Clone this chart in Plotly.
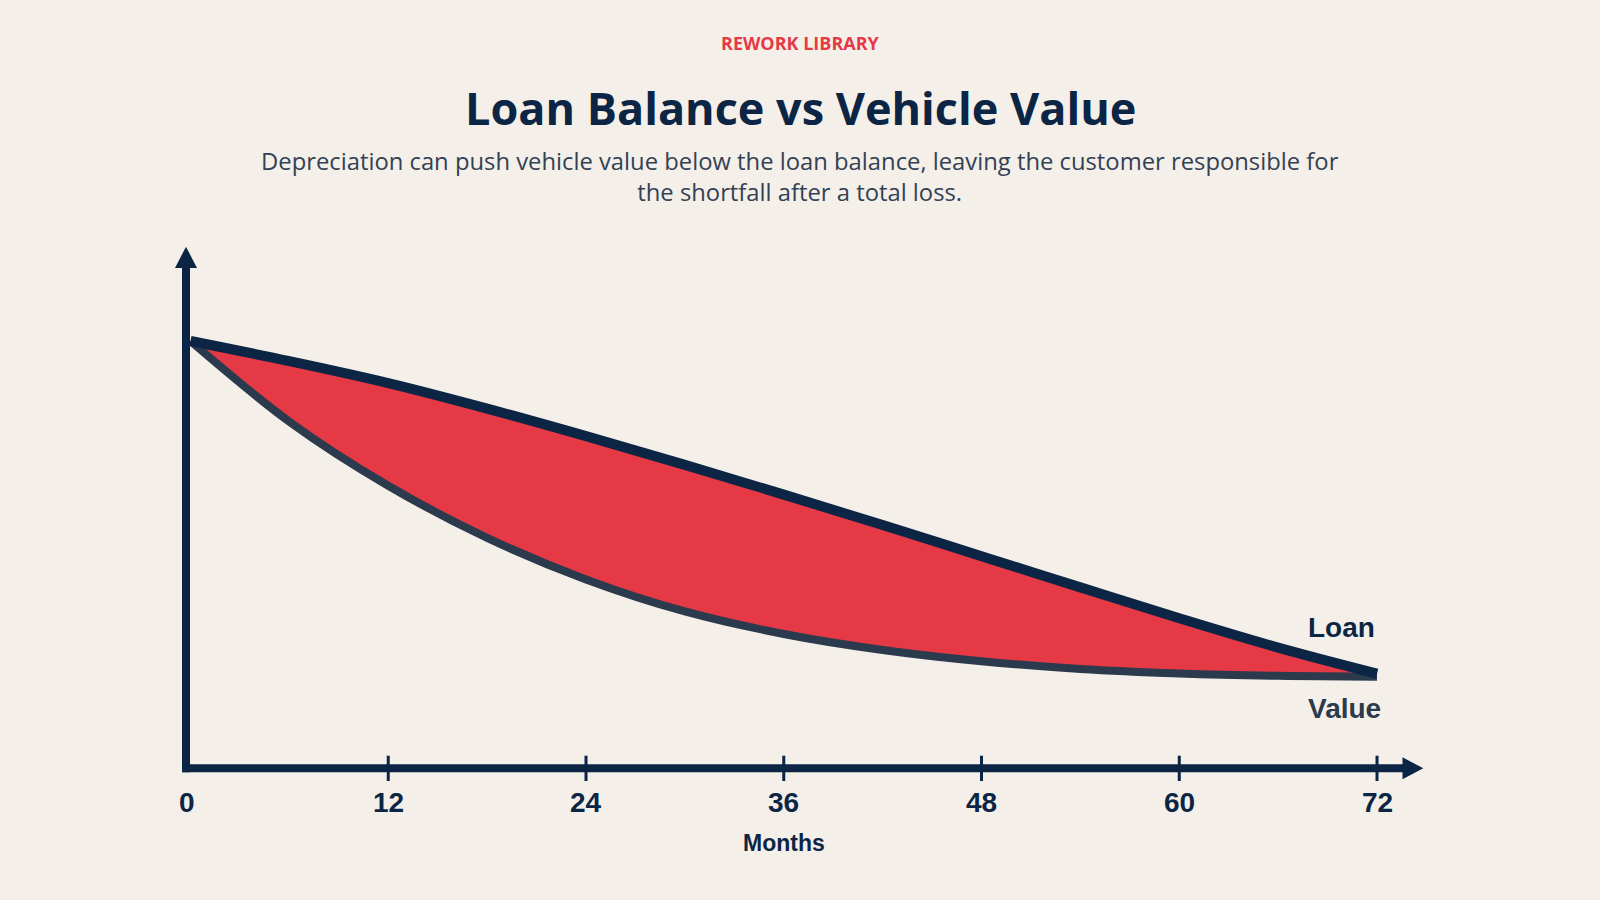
import plotly.graph_objects as go

# ---- data ----
months = [0, 6, 12, 18, 24, 30, 36, 42, 48, 54, 60, 66, 72]
loan_balance = [36000, 34300, 32450, 30300, 27980, 25560, 23050, 20480, 17860, 15230, 12620, 10150, 7950]
vehicle_value = [36000, 29200, 23800, 19400, 15900, 13200, 11300, 9950, 9000, 8350, 7970, 7770, 7700]
tick_months = [0, 12, 24, 36, 48, 60, 72]
tick_labels = ["0", "12", "24", "36", "48", "60", "72"]

BG = "#f4f0e9"
NAVY = "#0d2545"
SLATE = "#2b3a4d"
RED = "#e63946"

# plot area in pixels
L, R, T, B = 186, 1423, 247, 768
W, H = 1600, 900


def px(x):
    return (x - L) / (R - L)


def py(y):
    return (B - y) / (B - T)


fig = go.Figure()

SM = 1.0
# shortfall fill
fig.add_trace(go.Scatter(x=months, y=vehicle_value, mode="lines",
                         line=dict(width=0, shape="spline", smoothing=SM),
                         hoverinfo="skip", showlegend=False))
fig.add_trace(go.Scatter(x=months, y=loan_balance, mode="lines", fill="tonexty",
                         fillcolor=RED,
                         line=dict(width=0, shape="spline", smoothing=SM),
                         hoverinfo="skip", showlegend=False))
# lines
fig.add_trace(go.Scatter(x=months, y=vehicle_value, mode="lines", name="Value",
                         line=dict(width=8, color=SLATE, shape="spline", smoothing=SM),
                         showlegend=False))
fig.add_trace(go.Scatter(x=months, y=loan_balance, mode="lines", name="Loan",
                         line=dict(width=10, color=NAVY, shape="spline", smoothing=SM),
                         showlegend=False))

shapes = []
# x axis line
shapes.append(dict(type="line", xref="paper", yref="paper",
                   x0=px(182), x1=px(1405), y0=py(768.3), y1=py(768.3),
                   line=dict(color=NAVY, width=8)))
# y axis line
shapes.append(dict(type="line", xref="paper", yref="paper",
                   x0=px(186), x1=px(186), y0=py(772.3), y1=py(266),
                   line=dict(color=NAVY, width=8)))
# arrowheads
shapes.append(dict(type="path", xref="paper", yref="paper",
                   path=f"M {px(1402.5)} {py(757.3)} L {px(1423.3)} {py(768.3)} L {px(1402.5)} {py(779.3)} Z",
                   fillcolor=NAVY, line=dict(width=0)))
shapes.append(dict(type="path", xref="paper", yref="paper",
                   path=f"M {px(175)} {py(268)} L {px(186)} {py(246.7)} L {px(197)} {py(268)} Z",
                   fillcolor=NAVY, line=dict(width=0)))
# tick marks
for m in tick_months[1:]:
    shapes.append(dict(type="line", xref="x", yref="paper", x0=m, x1=m,
                       y0=py(755.7), y1=py(781), line=dict(color=NAVY, width=3)))

annotations = []
for m, t in zip(tick_months, tick_labels):
    annotations.append(dict(x=m, xref="x", y=py(802.5), yref="paper", text=t,
                            showarrow=False, xanchor="center", yanchor="middle",
                            xshift=-4 if m == 0 else 0,
                            font=dict(family="Liberation Sans, Arial", size=28,
                                      color=NAVY, weight=700)))
annotations.append(dict(x=36, xref="x", y=py(843), yref="paper", text="Months",
                        showarrow=False, xanchor="center", yanchor="middle",
                        font=dict(family="Liberation Sans, Arial", size=23,
                                  color=NAVY, weight=700)))
annotations.append(dict(x=px(1306), xref="paper", y=py(627), yref="paper", text="Loan",
                        showarrow=False, xanchor="left", yanchor="middle",
                        font=dict(family="Liberation Sans, Arial", size=28,
                                  color=NAVY, weight=700)))
annotations.append(dict(x=px(1306), xref="paper", y=py(708), yref="paper", text="Value",
                        showarrow=False, xanchor="left", yanchor="middle",
                        font=dict(family="Liberation Sans, Arial", size=28,
                                  color=SLATE, weight=700)))
# header texts
annotations.append(dict(x=px(800), xref="paper", y=py(43.5), yref="paper",
                        text="REWORK LIBRARY", showarrow=False,
                        xanchor="center", yanchor="middle",
                        font=dict(family="Open Sans", size=18, color=RED, weight=700)))
annotations.append(dict(x=px(800), xref="paper", y=py(107.5), yref="paper",
                        text="Loan Balance vs Vehicle Value", showarrow=False,
                        xanchor="center", yanchor="middle",
                        font=dict(family="Open Sans", size=45, color=NAVY, weight=700)))
annotations.append(dict(x=px(800), xref="paper", y=py(176), yref="paper",
                        text="Depreciation can push vehicle value below the loan balance, leaving the customer responsible for<br>the shortfall after a total loss.",
                        showarrow=False, xanchor="center", yanchor="middle",
                        font=dict(family="Open Sans", size=23.8, color="#334155")))

fig.update_layout(
    width=W, height=H,
    paper_bgcolor=BG, plot_bgcolor=BG,
    margin=dict(l=L, r=W - R, t=T, b=H - B, pad=0),
    xaxis=dict(range=[-0.273, 74.79], visible=False, fixedrange=True),
    yaxis=dict(range=[0, 43925], visible=False, fixedrange=True),
    shapes=shapes, annotations=annotations,
    showlegend=False,
)

fig.write_html("out.html")
